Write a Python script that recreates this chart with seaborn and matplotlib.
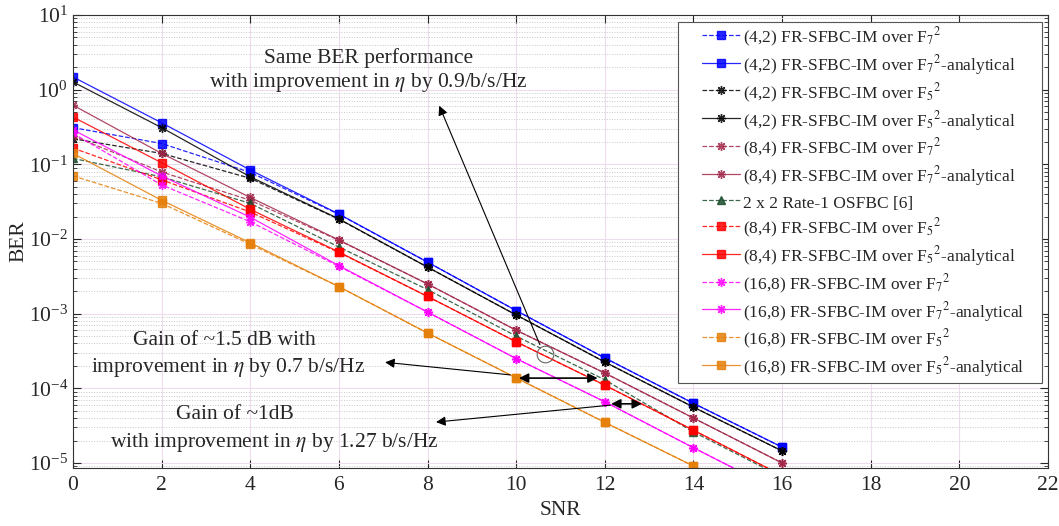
import numpy as np
import pandas as pd
import matplotlib
matplotlib.use('Agg')
import matplotlib.pyplot as plt
import seaborn as sns
from matplotlib.patches import Rectangle
from matplotlib.ticker import LogLocator, NullFormatter, MultipleLocator

# --- data ---
snr = [0, 2, 4, 6, 8, 10, 12, 14, 16]

ber_42_f7_sim = [0.31, 0.19, 0.078, 0.0214, 0.0049, 0.0011, 2.55e-4, 6.3e-5, 1.63e-5]
ber_42_f7_ana = [1.48, 0.36, 0.084, 0.0216, 0.0049, 0.0011, 2.55e-4, 6.3e-5, 1.63e-5]
ber_42_f5_sim = [0.22, 0.14, 0.065, 0.0184, 0.0042, 9.6e-4, 2.25e-4, 5.6e-5, 1.45e-5]
ber_42_f5_ana = [1.27, 0.31, 0.068, 0.0186, 0.0042, 9.6e-4, 2.25e-4, 5.6e-5, 1.45e-5]
ber_84_f7_sim = [0.24, 0.079, 0.033, 0.0096, 0.0025, 6.0e-4, 1.6e-4, 4.0e-5, 1.0e-5]
ber_84_f7_ana = [0.62, 0.14, 0.036, 0.0097, 0.0025, 6.0e-4, 1.6e-4, 4.0e-5, 1.0e-5]
ber_osfbc = [0.12, 0.068, 0.030, 0.0078, 0.0021, 5.0e-4, 1.3e-4, 2.6e-5, 6.5e-6]
ber_84_f5_sim = [0.165, 0.062, 0.023, 0.0066, 0.0017, 4.2e-4, 1.1e-4, 2.75e-5, 6.8e-6]
ber_84_f5_ana = [0.43, 0.105, 0.025, 0.0067, 0.0017, 4.2e-4, 1.1e-4, 2.75e-5, 6.8e-6]
ber_168_f7_sim = [0.26, 0.053, 0.017, 0.0043, 0.00105, 2.5e-4, 6.6e-5, 1.6e-5, 4.0e-6]
ber_168_f7_ana = [0.29, 0.070, 0.0196, 0.0044, 0.00105, 2.5e-4, 6.6e-5, 1.6e-5, 4.0e-6]
ber_168_f5_sim = [0.070, 0.030, 0.0085, 0.0023, 5.5e-4, 1.38e-4, 3.5e-5, 9.1e-6, 2.3e-6]
ber_168_f5_ana = [0.14, 0.033, 0.0089, 0.0023, 5.5e-4, 1.38e-4, 3.5e-5, 9.1e-6, 2.3e-6]

labels = [
    r'(4,2) FR-SFBC-IM over F$_7$$^2$',
    r'(4,2) FR-SFBC-IM over F$_7$$^2$-analytical',
    r'(4,2) FR-SFBC-IM over F$_5$$^2$',
    r'(4,2) FR-SFBC-IM over F$_5$$^2$-analytical',
    r'(8,4) FR-SFBC-IM over F$_7$$^2$',
    r'(8,4) FR-SFBC-IM over F$_7$$^2$-analytical',
    '2 x 2 Rate-1 OSFBC [6]',
    r'(8,4) FR-SFBC-IM over F$_5$$^2$',
    r'(8,4) FR-SFBC-IM over F$_5$$^2$-analytical',
    r'(16,8) FR-SFBC-IM over F$_7$$^2$',
    r'(16,8) FR-SFBC-IM over F$_7$$^2$-analytical',
    r'(16,8) FR-SFBC-IM over F$_5$$^2$',
    r'(16,8) FR-SFBC-IM over F$_5$$^2$-analytical',
]
series = [ber_42_f7_sim, ber_42_f7_ana, ber_42_f5_sim, ber_42_f5_ana,
          ber_84_f7_sim, ber_84_f7_ana, ber_osfbc, ber_84_f5_sim, ber_84_f5_ana,
          ber_168_f7_sim, ber_168_f7_ana, ber_168_f5_sim, ber_168_f5_ana]

asterisk = (8, 2, 0)
styles = [
    ('#0000ff', '--', 's'), ('#0000ff', '-', 's'),
    ('#000000', '--', asterisk), ('#000000', '-', asterisk),
    ('#a2284a', '--', asterisk), ('#a2284a', '-', asterisk),
    ('#1b4d2c', '--', '^'),
    ('#ff0000', '--', 's'), ('#ff0000', '-', 's'),
    ('#ff00ff', '--', asterisk), ('#ff00ff', '-', asterisk),
    ('#e5800a', '--', 's'), ('#e5800a', '-', 's'),
]

sns.set_style('ticks')
plt.rcParams['font.family'] = ['Liberation Serif', 'DejaVu Serif']
plt.rcParams['mathtext.fontset'] = 'stix'

fig = plt.figure(figsize=(10.59, 5.26), dpi=100)
ax = fig.add_axes([0.0689, 0.1103, 0.9207, 0.8612])
ax.set_yscale('log')

for vals, lbl, (c, ls, mk) in zip(series, labels, styles):
    ms = 6.5 if mk == asterisk else 5.5
    sns.lineplot(x=snr, y=vals, ax=ax, color=c, linestyle=ls, linewidth=0.9,
                 marker=mk, markersize=ms, markeredgecolor=c, markerfacecolor=c,
                 markeredgewidth=1.0, label=lbl, alpha=0.85)

ax.set_xlim(0, 22)
ax.set_ylim(10 ** -5.067, 10)
ax.xaxis.set_major_locator(MultipleLocator(2))
ax.yaxis.set_major_locator(LogLocator(base=10, numticks=10))
ax.yaxis.set_minor_locator(LogLocator(base=10, subs=np.arange(2, 10), numticks=20))
ax.yaxis.set_minor_formatter(NullFormatter())
ax.tick_params(which='both', direction='in', top=True, right=True, labelsize=15.5)
ax.tick_params(which='major', length=6)
ax.tick_params(which='minor', length=3)
ax.tick_params(axis='x', pad=6)
ax.grid(which='major', color='#eedcee', linestyle='-', linewidth=0.8)
ax.grid(which='minor', axis='y', color='#c8c8c8', linestyle=':', linewidth=0.7)
for s in ax.spines.values():
    s.set_color('#333333')
    s.set_linewidth(0.8)

ax.set_xlabel('SNR', fontsize=15.5, labelpad=4)
ax.set_ylabel('BER', fontsize=15.5, labelpad=0)

# annotations
tsz = 15.5
ax.text(6.66, 2.65, 'Same BER performance', fontsize=tsz, ha='center', va='center')
ax.text(6.66, 1.23, r'with improvement in $\eta$ by 0.9/b/s/Hz', fontsize=tsz, ha='center', va='center')
ax.annotate('', xy=(8.24, 0.66), xytext=(10.56, 3.55e-4),
            arrowprops=dict(arrowstyle='-|>', color='k', lw=0.8, mutation_scale=14))
ax.plot([10.65], [2.9e-4], marker='o', markersize=12, markerfacecolor='none',
        markeredgecolor='#666666', markeredgewidth=0.8)

ax.text(3.41, 4.4e-4, 'Gain of ~1.5 dB with', fontsize=tsz, ha='center', va='center')
ax.text(3.50, 1.9e-4, r'improvement in $\eta$ by 0.7 b/s/Hz', fontsize=tsz, ha='center', va='center')
ax.annotate('', xy=(6.98, 2.25e-4), xytext=(9.93, 1.5e-4),
            arrowprops=dict(arrowstyle='-|>', color='k', lw=0.8, mutation_scale=14))
ax.annotate('', xy=(10.0, 1.37e-4), xytext=(11.9, 1.37e-4),
            arrowprops=dict(arrowstyle='<|-|>', color='k', lw=1.2, mutation_scale=14))

ax.text(3.66, 4.4e-5, 'Gain of ~1dB', fontsize=tsz, ha='center', va='center')
ax.text(4.54, 1.9e-5, r'with improvement in $\eta$ by 1.27 b/s/Hz', fontsize=tsz, ha='center', va='center')
ax.annotate('', xy=(8.13, 3.5e-5), xytext=(12.19, 6.0e-5),
            arrowprops=dict(arrowstyle='-|>', color='k', lw=0.8, mutation_scale=14))
ax.annotate('', xy=(12.08, 6.2e-5), xytext=(12.9, 6.2e-5),
            arrowprops=dict(arrowstyle='<|-|>', color='k', lw=1.2, mutation_scale=14))

# legend box drawn separately (MATLAB-like wide side padding)
ax.add_patch(Rectangle((0.621, 0.1876), 0.3728, 0.797, transform=ax.transAxes,
                       facecolor='white', edgecolor='#555555', linewidth=0.8, zorder=4))
leg = ax.legend(loc='upper left', bbox_to_anchor=(0.645, 0.976), borderaxespad=0,
                fontsize=12.5, frameon=False, handlelength=2.2, handletextpad=0.15,
                handleheight=1.42, labelspacing=0.24, borderpad=0)
leg.set_zorder(5)

fig.savefig('out.png', dpi=100)
